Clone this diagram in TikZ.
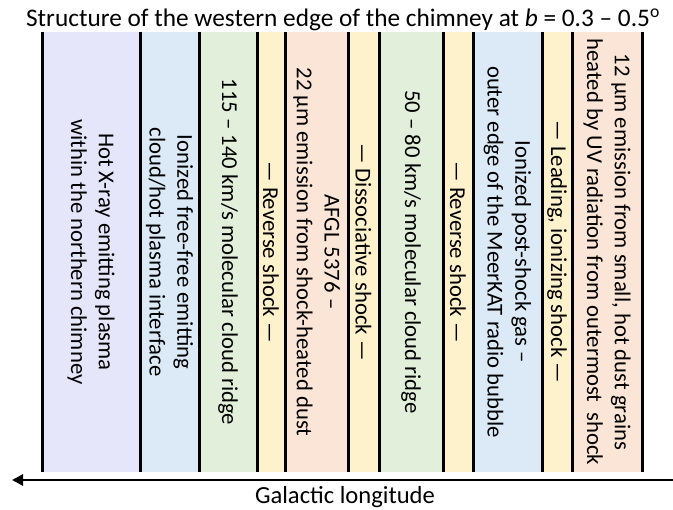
\documentclass[tikz,border=0pt]{standalone}
\usepackage{fontspec}
\setmainfont{Carlito}
\usetikzlibrary{arrows.meta}
\definecolor{cLav}{HTML}{E6E6FA}
\definecolor{cBlue}{HTML}{DBEAF6}
\definecolor{cGreen}{HTML}{E2EFDA}
\definecolor{cYel}{HTML}{FEF2CC}
\definecolor{cPeach}{HTML}{FAE5D6}
\begin{document}
\begin{tikzpicture}[x=1pt,y=-1pt,
  band/.style={draw=none,inner sep=0pt,outer sep=0pt,minimum height=440pt},
  btext/.style={rotate=-90,align=center,inner sep=0pt,font=\fontsize{22.7}{27.8}\selectfont},
  sepline/.style={line width=3pt,black},
  titletext/.style={font=\fontsize{25.3}{29}\selectfont,inner sep=0pt},
  axistext/.style={font=\fontsize{24.6}{29}\selectfont,inner sep=0pt}]
\useasboundingbox (0,0) rectangle (673,510);
% bands
\node[band,fill=cLav,minimum width=98pt]  (b1)  at (91,252)   {};
\node[band,fill=cBlue,minimum width=59pt] (b2)  at (169.5,252){};
\node[band,fill=cGreen,minimum width=58pt](b3)  at (228,252)  {};
\node[band,fill=cYel,minimum width=28pt]  (b4)  at (271,252)  {};
\node[band,fill=cPeach,minimum width=63pt](b5)  at (316.5,252){};
\node[band,fill=cYel,minimum width=31pt]  (b6)  at (363.5,252){};
\node[band,fill=cGreen,minimum width=64pt](b7)  at (411,252)  {};
\node[band,fill=cYel,minimum width=30pt]  (b8)  at (458,252)  {};
\node[band,fill=cBlue,minimum width=69pt] (b9)  at (507.5,252){};
\node[band,fill=cYel,minimum width=30pt]  (b10) at (557,252)  {};
\node[band,fill=cPeach,minimum width=70pt](b11) at (607,252)  {};
% separators
\foreach \n in {b1,b2,b3,b4,b5,b6,b7,b8,b9,b10,b11}
  \draw[sepline] (\n.north west) -- (\n.south west);
\draw[sepline] (b11.north east) -- (b11.south east);
% texts
\node[btext] (t1)  at (b1.center)  {Hot X-ray emitting plasma\\within the northern chimney};
\node[btext] (t2)  at (b2.center)  {Ionized free-free emitting\\cloud/hot plasma interface};
\node[btext] (t3)  at (b3.center)  {115 – 140 km/s molecular cloud ridge};
\node[btext] (t4)  at (b4.center)  {— Reverse shock —};
\node[btext] (t5)  at (b5.center)  {AFGL 5376 –\\22 μm emission from shock-heated dust};
\node[btext] (t6)  at (b6.center)  {— Dissociative shock —};
\node[btext] (t7)  at (b7.center)  {50 – 80 km/s molecular cloud ridge};
\node[btext] (t8)  at (b8.center)  {— Reverse shock —};
\node[btext] (t9)  at (b9.center)  {Ionized post-shock gas –\\outer edge of the MeerKAT radio bubble};
\node[btext] (t10) at (b10.center) {— Leading, ionizing shock —};
\node[btext] (t11) at (b11.center) {12 μm emission from small, hot dust grains\\heated by UV radiation from outermost\ \ shock};
% title
\node[titletext] (title) at (343,20) {Structure of the western edge of the chimney at \textit{b} = 0.3 – 0.5\textsuperscript{o}};
% axis
\coordinate (aR) at (673,480);
\coordinate (aL) at (12,480);
\draw[line width=2.8pt,-{Triangle[length=11pt,width=11pt]}] (aR) -- (aL);
\node[axistext] (xl) at (345,497) {Galactic longitude};
\end{tikzpicture}
\end{document}
